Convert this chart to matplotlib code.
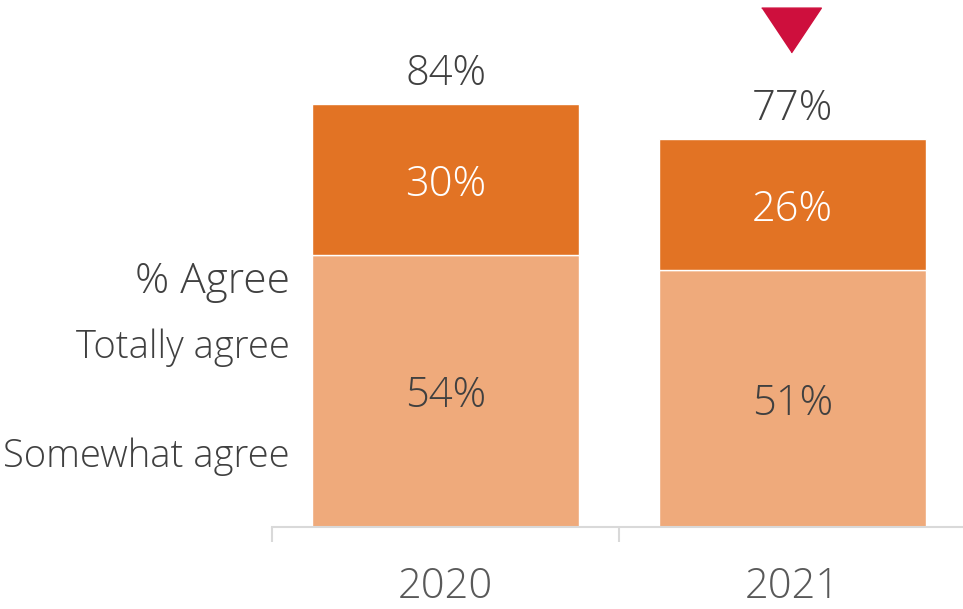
import matplotlib.pyplot as plt

years = ['2020', '2021']
somewhat = [54, 51]
totally = [30, 26]
totals = [84, 77]
row_labels = ['% Agree', 'Totally agree', 'Somewhat agree']

dark = '#E27324'
light = '#EFAA7B'
txt = '#404040'

plt.rcParams['font.family'] = ['Open Sans', 'DejaVu Sans']

fig = plt.figure(figsize=(9.63, 6.09), dpi=100)
ax = fig.add_axes([272 / 963, 82 / 609, 694 / 963, 527 / 609])

x = range(len(years))
ax.bar(x, somewhat, width=0.767, color=light, edgecolor='white', linewidth=1)
ax.bar(x, totally, bottom=somewhat, width=0.767, color=dark, edgecolor='white', linewidth=1)

ax.set_xlim(-0.5, 1.5)
ax.set_ylim(0, 104.6)

for i in x:
    ax.text(i, somewhat[i] / 2, f'{somewhat[i]}%', ha='center', va='center_baseline',
            fontsize=30, color=txt, fontweight='light')
    ax.text(i, somewhat[i] + totally[i] / 2, f'{totally[i]}%', ha='center',
            va='center_baseline', fontsize=30, color='white', fontweight='light')
    ax.text(i, totals[i] + 7, f'{totals[i]}%', ha='center', va='center_baseline',
            fontsize=30, color=txt, fontweight='light')

# down arrow over 2021
ax.plot([0.995], [98.6], marker=[(-1, 0.75), (1, 0.75), (0, -0.75)], markersize=43,
        color='#CE0F3D', linestyle='none', clip_on=False)

ax.set_xticks([-0.5, 0.5, 1.5], minor=False)
ax.set_xticklabels([])
ax.set_xticks(list(x), minor=True)
ax.set_xticklabels(years, minor=True, fontsize=30, color='#595959', fontweight='light')
ax.tick_params(axis='x', which='major', length=11, color='#D9D9D9', width=1.5)
ax.tick_params(axis='x', which='minor', length=0, pad=28)
ax.set_yticks([])
for s in ['top', 'right', 'left']:
    ax.spines[s].set_visible(False)
ax.spines['bottom'].set_color('#D9D9D9')
ax.spines['bottom'].set_linewidth(1.5)

# row labels on the left
fig.text(290 / 963, 1 - 277 / 609, row_labels[0], ha='right', va='center_baseline',
         fontsize=30.5, color=txt, fontweight='light')
fig.text(290 / 963, 1 - 343 / 609, row_labels[1], ha='right', va='center_baseline',
         fontsize=27.5, color=txt, fontweight='light')
fig.text(290 / 963, 1 - 452 / 609, row_labels[2], ha='right', va='center_baseline',
         fontsize=27.5, color=txt, fontweight='light')

fig.savefig('out.png', dpi=100)
